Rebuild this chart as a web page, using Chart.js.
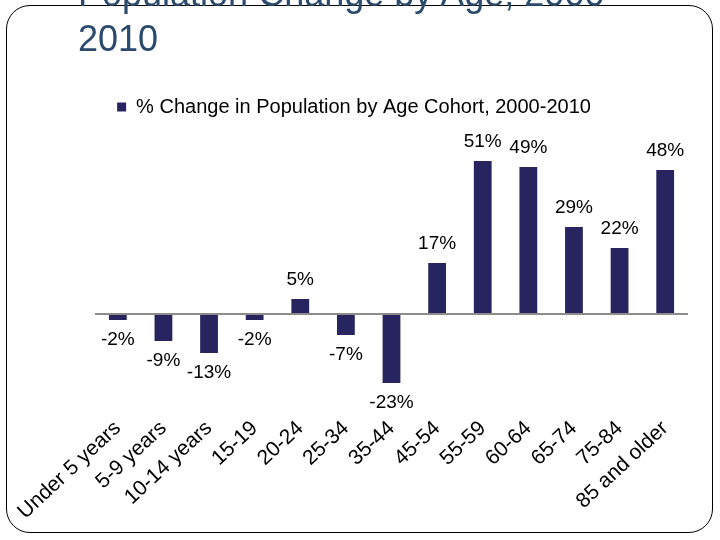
<!DOCTYPE html>
<html>
<head>
<meta charset="utf-8">
<script src="https://cdn.jsdelivr.net/npm/chart.js@4/dist/chart.umd.min.js"></script>
<style>
  body { margin: 0; width: 720px; height: 540px; overflow: hidden; background: #fff; position: relative; font-family: "Liberation Sans", Arial, sans-serif; }
  .frame { position: absolute; left: 6px; top: 5px; width: 705px; height: 526px; border: 1.5px solid #000; border-radius: 24px; }
  .title { position: absolute; left: 78px; top: -29px; font-size: 36px; line-height: 45px; color: #2b4a6c; white-space: nowrap; }
  #chart { position: absolute; left: 0; top: 0; }
</style>
</head>
<body>
<div class="frame"></div>
<canvas id="chart" width="720" height="540"></canvas>
<div class="title">Population Change by Age, 2000-<br>2010</div>

<script>
// chart data
var categories = ['Under 5 years', '5-9 years', '10-14 years', '15-19', '20-24', '25-34', '35-44',
    '45-54', '55-59', '60-64', '65-74', '75-84', '85 and older'];
var pctChange = [-2, -9, -13, -2, 5, -7, -23, 17, 51, 49, 29, 22, 48];
var seriesName = '% Change in Population by Age Cohort, 2000-2010';

var barColor = '#27245f';
var axisGrey = '#8c8c8c';
var fontFamily = '"Liberation Sans", Arial, sans-serif';

//value labels above / below each bar
var valueLabels = {
    id: 'valueLabels',
    afterDatasetsDraw: function (chart) {
        var ctx = chart.ctx;
        var meta = chart.getDatasetMeta(0);
        ctx.save();
        ctx.font = '19px ' + fontFamily;
        ctx.fillStyle = '#000';
        ctx.textAlign = 'center';
        ctx.textBaseline = 'middle';
        meta.data.forEach(function (bar, i) {
            var v = pctChange[i];
            var y = v >= 0 ? bar.y - 19 : bar.y + 20;
            ctx.fillText(v + '%', bar.x, y);
        });
        ctx.restore();
    }
};

//some extra room under the legend
var legendGap = {
    id: 'legendGap',
    beforeInit: function (chart) {
        if (!chart.legend) return;
        var fit = chart.legend.fit;
        chart.legend.fit = function () {
            fit.call(this);
            this.height += 7;
        };
    }
};

var ctx = document.getElementById('chart').getContext('2d');
var myChart = new Chart(ctx, {
    type: 'bar',
    data: {
        labels: categories,
        datasets: [{
            label: seriesName,
            data: pctChange,
            backgroundColor: barColor,
            borderWidth: 0,
            categoryPercentage: 1,
            barPercentage: 0.39
        }]
    },
    options: {
        responsive: false,
        animation: false,
        layout: {
            padding: { top: 80, left: 20, right: 32, bottom: 6 }
        },
        plugins: {
            legend: {
                position: 'top',
                labels: {
                    boxWidth: 9,
                    boxHeight: 9,
                    padding: 17,
                    color: '#000',
                    font: { family: fontFamily, size: 20 }
                }
            },
            tooltip: { enabled: false }
        },
        scales: {
            x: {
                grid: { display: false },
                border: { display: false },
                ticks: {
                    color: '#000',
                    autoSkip: false,
                    maxRotation: 43,
                    minRotation: 43,
                    padding: 4,
                    font: { family: fontFamily, size: 21 }
                },
                afterFit: function (scale) { scale.height = 130; }
            },
            y: {
                min: -30,
                max: 60,
                ticks: { display: false, stepSize: 10 },
                border: { display: false },
                grid: {
                    drawTicks: false,
                    lineWidth: 2,
                    color: function (c) { return c.tick && c.tick.value === 0 ? axisGrey : 'rgba(0,0,0,0)'; }
                },
                afterFit: function (scale) { scale.width = 75; }
            }
        }
    },
    plugins: [legendGap, valueLabels]
});
</script>
</body>
</html>
